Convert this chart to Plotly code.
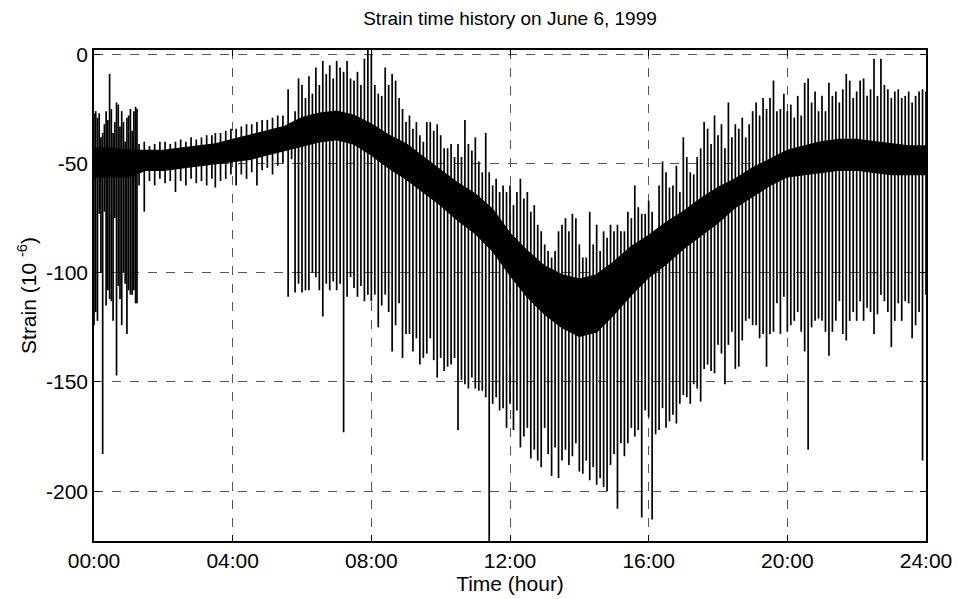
import plotly.graph_objects as go

# ---- data (strain in 1e-6, time in hours) ----
# dense core band of the signal
band_t = [0.0, 0.5, 1.0, 1.5, 2.0, 2.5, 3.0, 3.5, 4.0, 4.5, 5.0, 5.5, 6.0, 6.5, 7.0, 7.5,
          8.0, 8.5, 9.0, 9.5, 10.0, 10.5, 11.0, 11.5, 12.0, 12.5, 13.0, 13.5, 14.0, 14.5,
          15.0, 15.5, 16.0, 16.5, 17.0, 17.5, 18.0, 18.5, 19.0, 19.5, 20.0, 20.5, 21.0,
          21.5, 22.0, 22.5, 23.0, 23.5, 24.0]
band_hi = [-43, -43, -44, -44, -44, -43, -42, -41, -39, -37, -35, -33, -29, -27, -26, -28,
           -32, -37, -41, -47, -53, -59, -64, -71, -82, -90, -97, -101, -103, -101,
           -95, -88, -83, -77, -72, -66, -61, -57, -52, -48, -44, -42, -40,
           -39, -39, -40, -41, -42, -42]
band_lo = [-56, -56, -56, -53, -53, -52, -51, -50, -49, -48, -46, -44, -42, -40, -39, -41,
           -46, -52, -57, -63, -69, -76, -82, -90, -101, -111, -119, -125, -129, -127,
           -119, -110, -102, -96, -89, -83, -77, -70, -65, -60, -56, -55, -54,
           -53, -53, -54, -55, -55, -55]

# early burst of spikes (00:00 - 01:15)
early_t = [0.00, 0.05, 0.10, 0.15, 0.20, 0.25, 0.30, 0.35, 0.40, 0.45, 0.50, 0.55, 0.60,
           0.65, 0.70, 0.75, 0.80, 0.85, 0.90, 0.95, 1.00, 1.05, 1.10, 1.15, 1.20, 1.24]
early_hi = [-27, -26, -29, -27, -38, -36, -32, -26, -30, -9, -25, -36, -31,
            -22, -23, -33, -26, -31, -40, -29, -28, -25, -35, -26, -24, -25]
early_lo = [-124, -118, -122, -73, -100, -183, -72, -115, -108, -112, -113, -122, -75,
            -147, -106, -112, -124, -100, -105, -128, -108, -110, -110, -108, -114, -114]

# small noise spikes in the quiet period (01:15 - 05:30)
quiet_t = [1.30, 1.45, 1.60, 1.75, 1.90, 2.05, 2.20, 2.35, 2.50, 2.65, 2.80, 2.95, 3.10,
           3.25, 3.40, 3.50, 3.65, 3.80, 3.95, 4.10, 4.25, 4.40, 4.55, 4.70, 4.85, 5.00,
           5.15, 5.30, 5.45]
quiet_hi = [-41, -40, -42, -41, -40, -40, -41, -40, -39, -40, -38, -39, -38,
            -37, -37, -36, -36, -35, -34, -34, -33, -32, -32, -31, -30, -30,
            -29, -28, -28]
quiet_lo = [-60, -72, -58, -60, -57, -59, -58, -63, -58, -60, -57, -59, -58,
            -60, -57, -61, -58, -57, -55, -60, -55, -57, -54, -60, -53, -52,
            -55, -51, -50]

# traffic spikes every 0.1 h from 05:36 to 24:00
traffic_start, traffic_step = 5.6, 0.1
traffic_hi = [
    -16, -34, -26, -11,                                            # 5.6-5.9
    -14, -20, -10, -18, -6, -14, -3, -9, -5, -11,                  # 6
    -3, -6, -8, -3, -11, -12, -8, -14, -2, 2,                      # 7
    0, -14, -18, -19, -6, -14, -9, -12, -20, -25,                  # 8
    -31, -28, -34, -31, -37, -40, -31, -31, -35, -32,              # 9
    -37, -43, -43, -41, -47, -41, -47, -30, -41, -44,              # 10
    -38, -49, -54, -36, -54, -60, -57, -63, -60, -63,              # 11
    -60, -69, -63, -57, -66, -63, -72, -69, -78, -81,              # 12
    -87, -90, -93, -90, -81, -78, -75, -81, -73, -75,              # 13
    -87, -93, -93, -72, -87, -78, -90, -81, -84, -78,              # 14
    -81, -78, -81, -81, -72, -75, -60, -70, -73, -73,              # 15
    -67, -72, -81, -60, -49, -54, -61, -60, -51, -63,              # 16
    -38, -47, -54, -55, -47, -43, -31, -34, -41, -28,              # 17
    -37, -32, -43, -22, -38, -32, -34, -29, -38, -32,              # 18
    -26, -22, -28, -20, -25, -20, -12, -26, -25, -18,              # 19
    -26, -23, -29, -19, -28, -13, -11, -22, -17, -26,              # 20
    -19, -26, -13, -19, -17, -22, -16, -9, -12, -20,               # 21
    -17, -12, -11, -19, -16, -2, -19, -2, -14, -16,                # 22
    -20, -17, -16, -20, -19, -17, -22, -19, -17, -16,              # 23
    -17,                                                           # 24.0
]
traffic_lo = [
    -111, -48, -109, -105,                                                 # 5.6-5.9
    -109, -108, -108, -100, -102, -108, -120, -105, -108, -104,            # 6
    -108, -105, -173, -111, -102, -107, -111, -106, -113, -110,            # 7
    -113, -110, -125, -115, -110, -118, -136, -124, -114, -139,            # 8
    -128, -128, -136, -130, -142, -139, -137, -130, -140, -148,            # 9
    -139, -145, -143, -142, -139, -172, -149, -151, -153, -148,            # 10
    -153, -154, -154, -157, -224, -160, -157, -163, -162, -171,            # 11
    -160, -172, -163, -180, -175, -171, -185, -181, -186, -189,            # 12
    -171, -183, -193, -180, -194, -186, -181, -188, -184, -178,            # 13
    -191, -192, -186, -195, -189, -197, -194, -198, -200, -188,            # 14
    -183, -208, -178, -184, -178, -171, -175, -172, -212, -163,            # 15
    -166, -213, -174, -172, -162, -171, -168, -165, -169, -160,            # 16
    -156, -157, -160, -151, -153, -159, -144, -142, -145, -146,            # 17
    -133, -137, -151, -133, -127, -144, -143, -131, -122, -121,            # 18
    -124, -124, -130, -128, -143, -128, -127, -114, -128, -111,            # 19
    -127, -124, -122, -118, -127, -136, -181, -125, -122, -121,            # 20
    -122, -127, -138, -127, -122, -113, -128, -131, -122, -118,            # 21
    -122, -113, -122, -116, -118, -128, -119, -110, -113, -118,            # 22
    -134, -122, -114, -122, -113, -114, -130, -124, -118, -186,            # 23
    -110,                                                                  # 24.0
]
traffic_t = [round(traffic_start + i * traffic_step, 2) for i in range(len(traffic_hi))]

tick_vals = [0, 4, 8, 12, 16, 20, 24]
tick_text = ["00:00", "04:00", "08:00", "12:00", "16:00", "20:00", "24:00"]
ytick_vals = [0, -50, -100, -150, -200]
ytick_text = ["0", "-50", "-100", "-150", "-200"]

# ---- build spike segments ----
sx, sy = [], []
for tt, hh, ll in [(early_t, early_hi, early_lo), (quiet_t, quiet_hi, quiet_lo),
                   (traffic_t, traffic_hi, traffic_lo)]:
    for t, h, l in zip(tt, hh, ll):
        sx += [t, t, None]
        sy += [l, h, None]

fig = go.Figure()
fig.add_trace(go.Scatter(x=band_t, y=band_hi, mode="lines",
                         line=dict(color="black", width=1.5), showlegend=False,
                         hoverinfo="skip"))
fig.add_trace(go.Scatter(x=band_t, y=band_lo, mode="lines", fill="tonexty",
                         fillcolor="black", line=dict(color="black", width=1.5),
                         showlegend=False, hoverinfo="skip"))
fig.add_trace(go.Scatter(x=sx, y=sy, mode="lines",
                         line=dict(color="black", width=1.7), showlegend=False,
                         connectgaps=False))

font = "Liberation Sans, Arial, sans-serif"
fig.update_layout(
    width=964, height=599,
    margin=dict(l=94, r=34, t=50, b=57),
    paper_bgcolor="white", plot_bgcolor="white",
    font=dict(family=font, color="black", size=21),
    title=dict(text="Strain time history on June 6, 1999", x=0.5, xanchor="center",
               xref="paper", y=1 - 18 / 599, yanchor="middle",
               font=dict(size=19, family=font, color="black")),
)
fig.update_xaxes(range=[0, 24], tickvals=tick_vals, ticktext=tick_text,
                 showgrid=True, gridcolor="#555555", griddash="dash", gridwidth=1,
                 showline=True, linecolor="black", linewidth=1.5, mirror="ticks",
                 ticks="inside", ticklen=6, tickcolor="black", zeroline=False,
                 tickfont=dict(size=21),
                 title=dict(text="Time (hour)", font=dict(size=21), standoff=0))
fig.update_yaxes(range=[-222.8, 2], tickvals=ytick_vals, ticktext=ytick_text,
                 showgrid=True, gridcolor="#555555", griddash="dash", gridwidth=1,
                 showline=True, linecolor="black", linewidth=1.5, mirror="ticks",
                 ticks="inside", ticklen=6, tickcolor="black", zeroline=False,
                 tickfont=dict(size=21),
                 title=dict(text="Strain (10 <sup>-6</sup>)", font=dict(size=21), standoff=4))

fig.write_html("out.html")
